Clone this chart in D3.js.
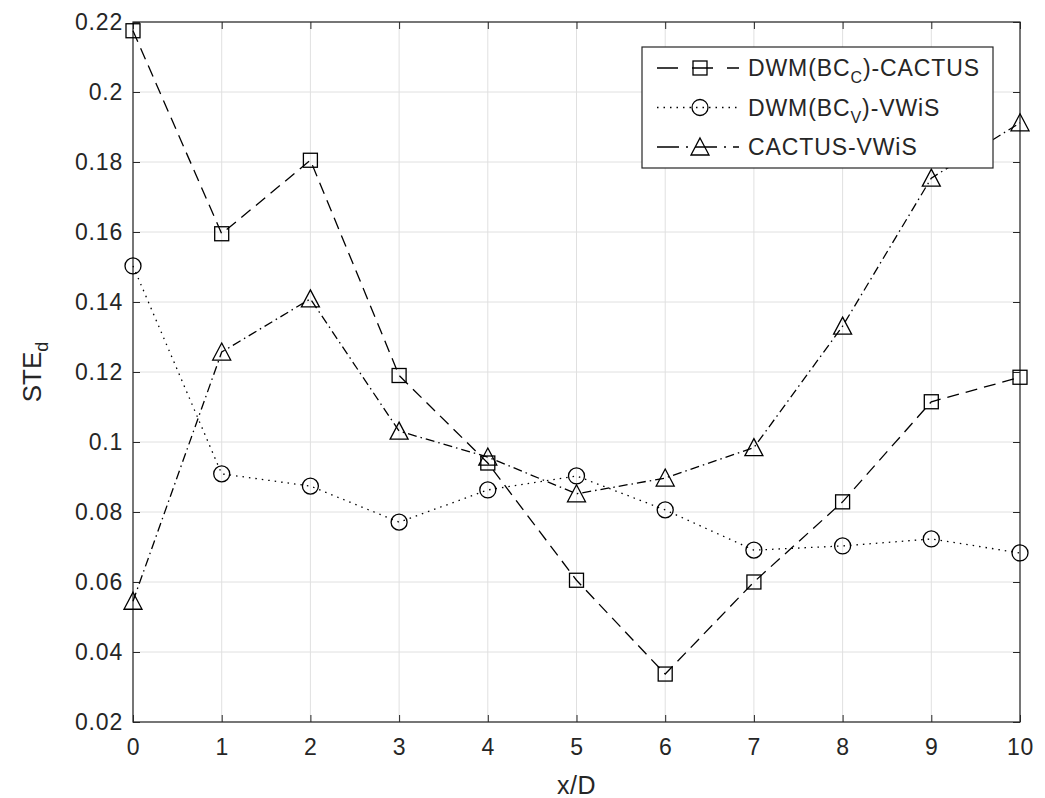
<!DOCTYPE html>
<html>
<head>
<meta charset="utf-8">
<script src="https://cdn.jsdelivr.net/npm/d3@7"></script>
<style>
  body { margin: 0; background: #fff; }
  svg { display: block; font-family: "Liberation Sans", Arial, sans-serif; }
  .grid line { stroke: #e0e0e0; stroke-width: 1; }
  .tick text { fill: #262626; font-size: 23px; letter-spacing: 0.8px; }
  .series { fill: none; stroke: #000; stroke-width: 1.3; }
  .marker { fill: none; stroke: #000; stroke-width: 1.3; }
</style>
</head>
<body>
<div id="chart"></div>
<script>
// data
const xd = [0, 1, 2, 3, 4, 5, 6, 7, 8, 9, 10];
const dwmCactus = [0.2175, 0.1595, 0.1805, 0.1190, 0.0940, 0.0605, 0.0337, 0.0600, 0.0829, 0.1115, 0.1185];
const dwmVwis   = [0.1503, 0.0909, 0.0874, 0.0771, 0.0863, 0.0903, 0.0806, 0.0691, 0.0703, 0.0723, 0.0683];
const cactusVwis = [0.0545, 0.1257, 0.1409, 0.1031, 0.0957, 0.0852, 0.0897, 0.0984, 0.1331, 0.1754, 0.1912];

const xTicks = [0, 1, 2, 3, 4, 5, 6, 7, 8, 9, 10];
const yTicks = [0.02, 0.04, 0.06, 0.08, 0.1, 0.12, 0.14, 0.16, 0.18, 0.2, 0.22];

const series = [
  {name: "DWM(BC", sub: "C", rest: ")-CACTUS", values: dwmCactus, dash: "12,7", legendDash: "21,14", marker: "square"},
  {name: "DWM(BC", sub: "V", rest: ")-VWiS", values: dwmVwis, dash: "1.5,5", legendDash: "1.5,5", marker: "circle"},
  {name: "CACTUS-VWiS", sub: "", rest: "", values: cactusVwis, dash: "9,4,1.5,4", legendDash: "22,7,2,7", marker: "triangle"}
];

window.addEventListener("load", () => {
  const W = 1045, H = 798;
  const margin = {top: 22, right: 25, bottom: 76, left: 133};
  const width = W - margin.left - margin.right;
  const height = H - margin.top - margin.bottom;

  const svg = d3.select("#chart").append("svg")
                .attr("width", W)
                .attr("height", H);
  const chart = svg.append("g")
                   .attr("transform", `translate(${margin.left},${margin.top})`);

  // scales
  const x = d3.scaleLinear().domain([0, 10]).range([0, width]);
  const y = d3.scaleLinear().domain([0.02, 0.22]).range([height, 0]);

  // grid
  const grid = chart.append("g").attr("class", "grid");
  grid.selectAll(".gx").data(xTicks).join("line")
      .attr("x1", d => x(d)).attr("x2", d => x(d))
      .attr("y1", 0).attr("y2", height);
  grid.selectAll(".gy").data(yTicks).join("line")
      .attr("y1", d => y(d)).attr("y2", d => y(d))
      .attr("x1", 0).attr("x2", width);

  // axes, ticks pointing inward (box on)
  const tickLen = 7;
  const styleAxis = g => {
    g.select(".domain").remove();
    g.selectAll(".tick line").attr("stroke", "#262626");
  };
  chart.append("g")
       .attr("transform", `translate(0,${height})`)
       .call(d3.axisBottom(x).tickValues(xTicks).tickSizeInner(-tickLen).tickSizeOuter(0).tickPadding(17).tickFormat(d => d))
       .call(styleAxis)
       .call(g => g.selectAll(".tick text").attr("font-size", null));
  chart.append("g")
       .call(d3.axisLeft(y).tickValues(yTicks).tickSizeInner(-tickLen).tickSizeOuter(0).tickPadding(10).tickFormat(d => d))
       .call(styleAxis)
       .call(g => g.selectAll(".tick text").attr("font-size", null));
  chart.append("g")
       .call(d3.axisTop(x).tickValues(xTicks).tickSizeInner(-tickLen).tickSizeOuter(0).tickFormat(""))
       .call(styleAxis);
  chart.append("g")
       .attr("transform", `translate(${width},0)`)
       .call(d3.axisRight(y).tickValues(yTicks).tickSizeInner(-tickLen).tickSizeOuter(0).tickFormat(""))
       .call(styleAxis);
  svg.selectAll(".tick").attr("font-family", null);

  // box
  chart.append("rect")
       .attr("width", width).attr("height", height)
       .attr("fill", "none").attr("stroke", "#262626").attr("stroke-width", 1.2);

  // markers
  const drawMarker = (g, type, cx, cy) => {
    if (type === "square") {
      g.append("rect").attr("class", "marker")
       .attr("x", cx - 7).attr("y", cy - 7).attr("width", 14).attr("height", 14);
    } else if (type === "circle") {
      g.append("circle").attr("class", "marker")
       .attr("cx", cx).attr("cy", cy).attr("r", 8);
    } else {
      g.append("path").attr("class", "marker")
       .attr("d", `M${cx},${cy - 9}L${cx + 9},${cy + 8}L${cx - 9},${cy + 8}Z`);
    }
  };

  const line = d3.line()
                 .x((d, i) => x(xd[i]))
                 .y(d => y(d));

  series.forEach(s => {
    chart.append("path")
         .datum(s.values)
         .attr("class", "series")
         .attr("stroke-dasharray", s.dash)
         .attr("d", line);
    const mg = chart.append("g");
    s.values.forEach((v, i) => drawMarker(mg, s.marker, x(xd[i]), y(v)));
  });

  // legend
  const legend = svg.append("g");
  legend.append("rect")
        .attr("x", 642).attr("y", 47).attr("width", 351).attr("height", 121)
        .attr("fill", "#fff").attr("stroke", "#262626").attr("stroke-width", 1.2);
  series.forEach((s, i) => {
    const ly = 68 + i * 39.5;
    legend.append("line")
          .attr("x1", 657).attr("x2", 739).attr("y1", ly).attr("y2", ly)
          .attr("class", "series")
          .attr("stroke-dasharray", s.legendDash);
    drawMarker(legend, s.marker, 700, ly);
    const t = legend.append("text")
                    .attr("x", 748).attr("y", ly + 8)
                    .attr("font-size", 23).attr("letter-spacing", "0.9px")
                    .attr("fill", "#262626");
    t.append("tspan").text(s.name);
    if (s.sub) {
      t.append("tspan").attr("font-size", 16).attr("dy", 7).text(s.sub);
      t.append("tspan").attr("dy", -7).text(s.rest);
    }
  });

  // axis labels
  svg.append("text")
     .attr("x", margin.left + width / 2).attr("y", 794)
     .attr("text-anchor", "middle")
     .attr("font-size", 25).attr("letter-spacing", "0.5px").attr("fill", "#262626")
     .text("x/D");

  const yl = svg.append("text")
                .attr("transform", `translate(41,${margin.top + height / 2}) rotate(-90)`)
                .attr("text-anchor", "middle")
                .attr("font-size", 26).attr("fill", "#262626");
  yl.append("tspan").text("STE");
  yl.append("tspan").attr("font-size", 18).attr("dy", 7).text("d");
});
</script>
</body>
</html>
